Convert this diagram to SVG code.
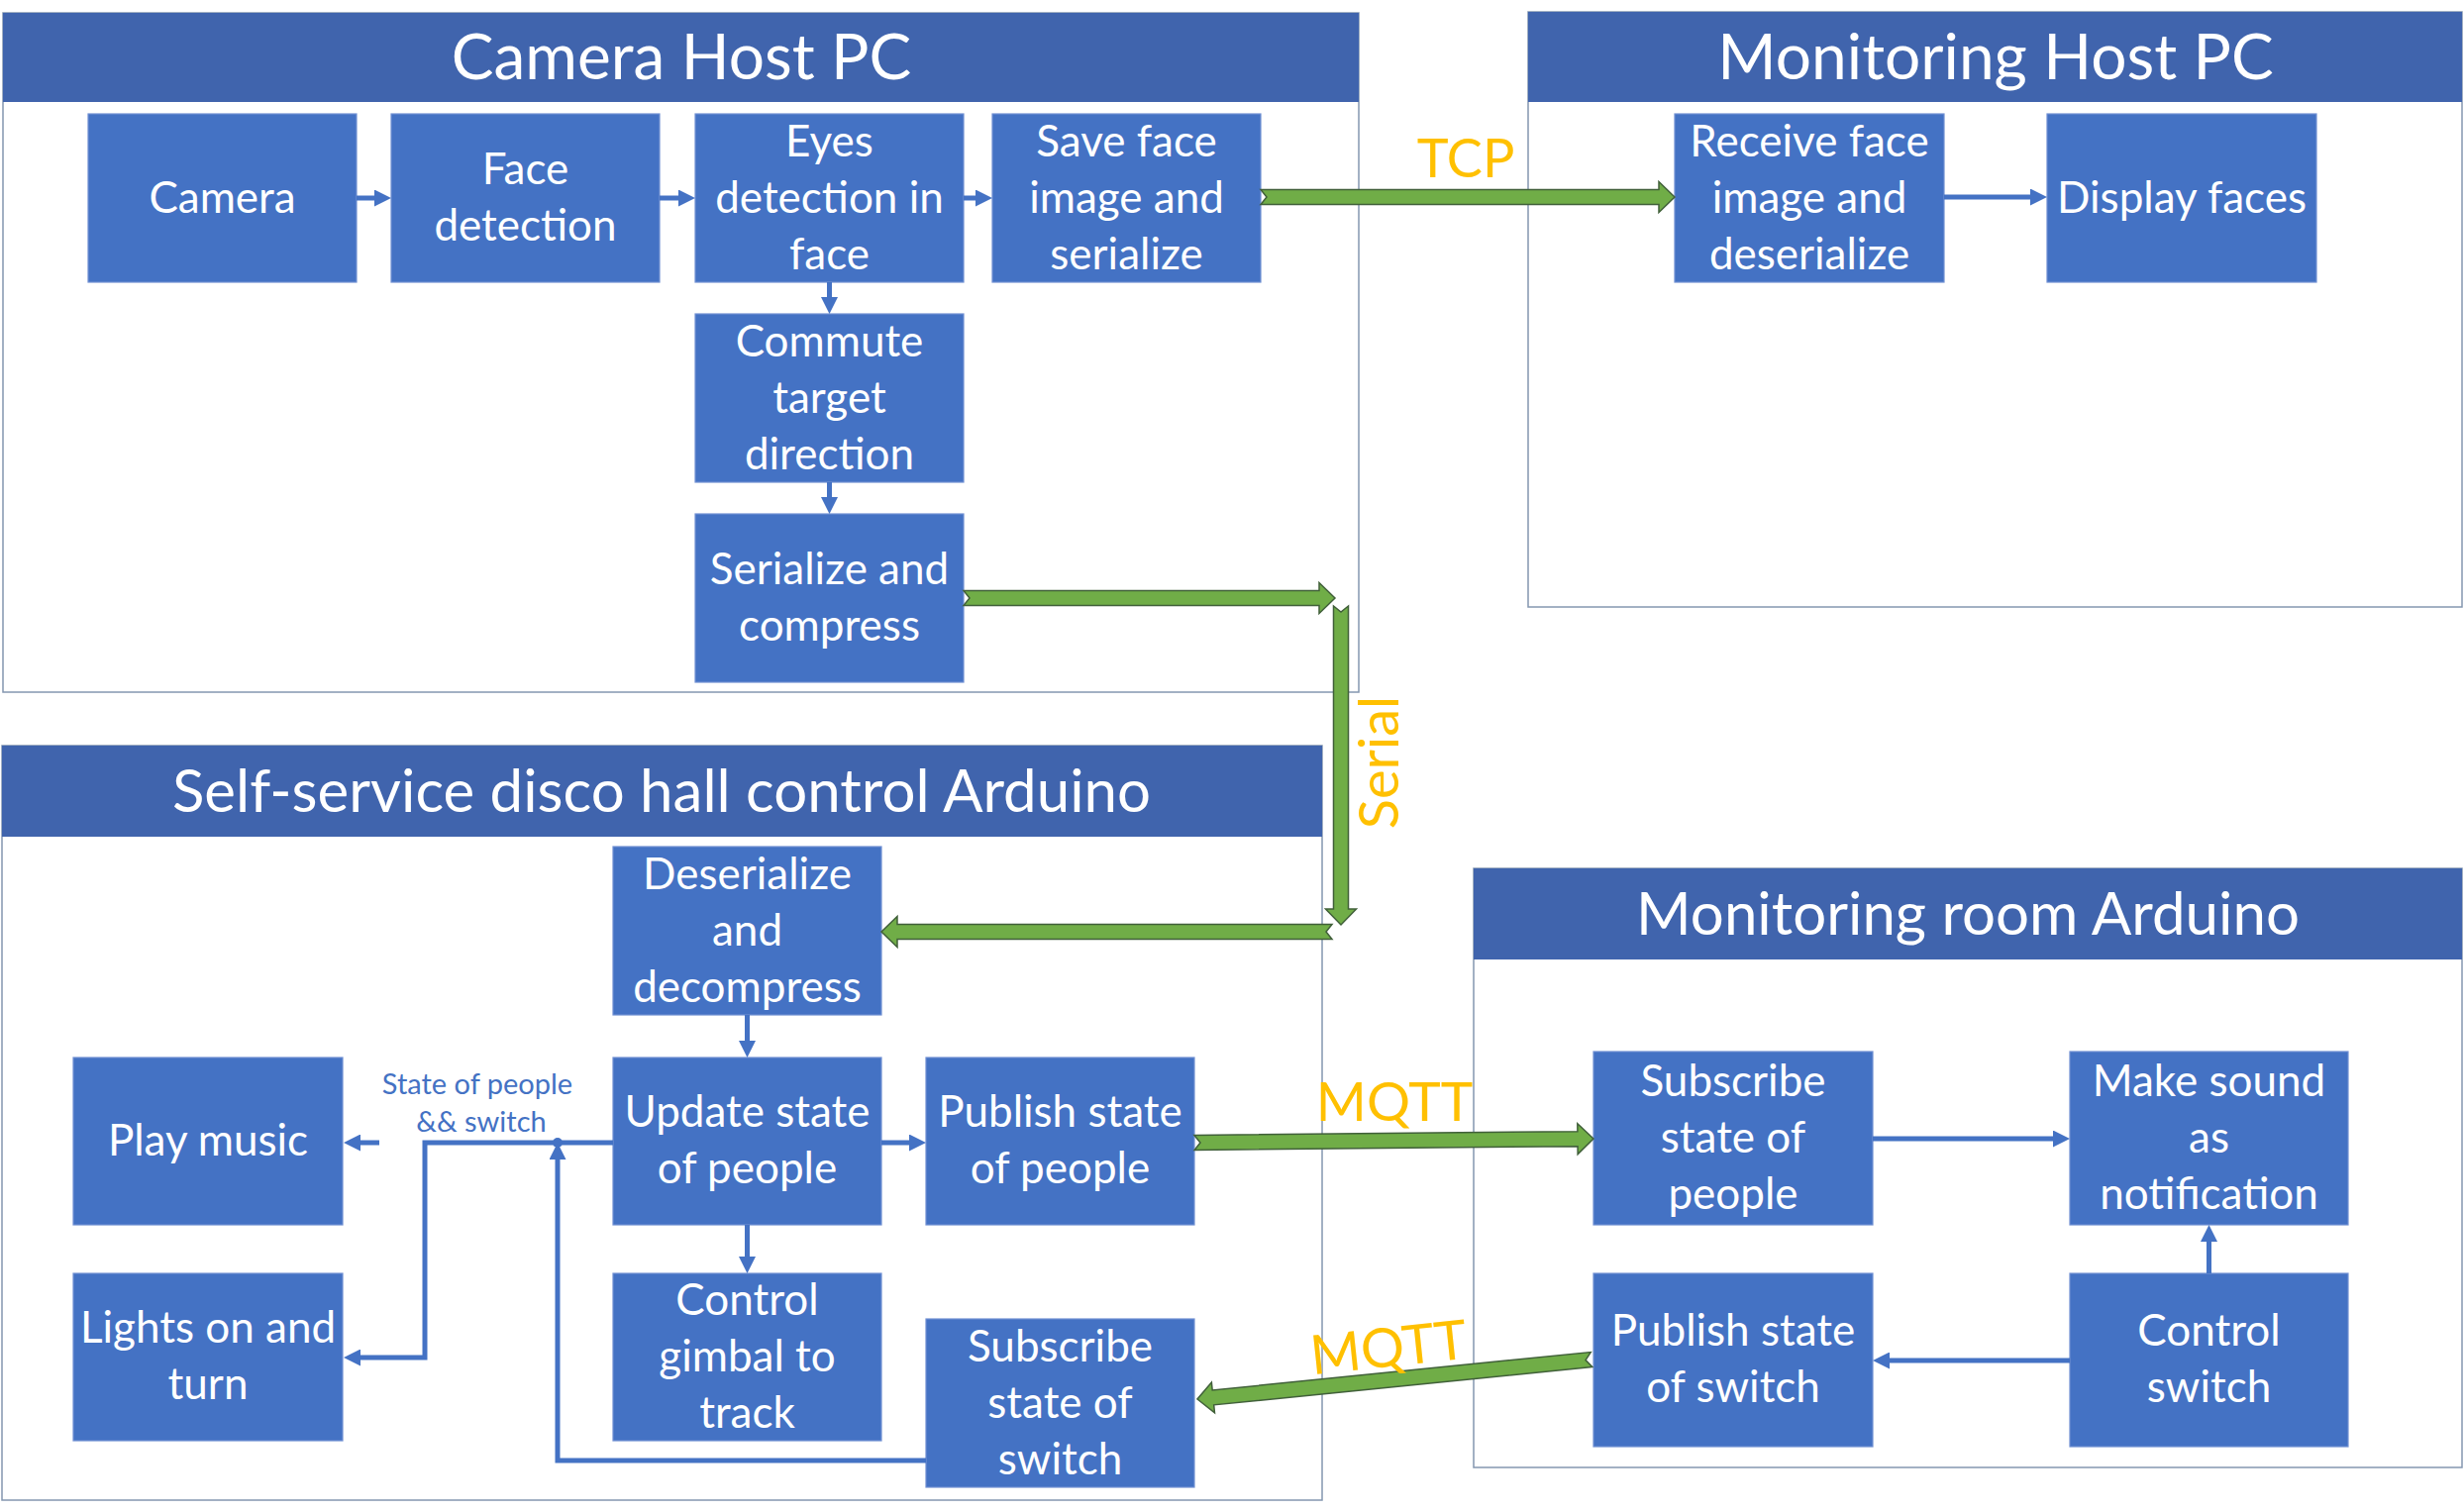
<svg xmlns="http://www.w3.org/2000/svg" width="2488" height="1527" viewBox="0 0 2488 1527">
<style>
.cont{fill:#ffffff;stroke:#8497B0;stroke-width:1.5}
.hdr{fill:#4064AD}
.ttl{font-family:Lato,"Open Sans",sans-serif;font-size:64px;fill:#ffffff;text-anchor:middle}
.box{fill:#4472C4;stroke:#6F8FD2;stroke-width:1.2}
.bt{font-family:Lato,"Open Sans",sans-serif;font-size:44px;fill:#ffffff;text-anchor:middle}
.con{fill:none;stroke:#4472C4;stroke-width:5}
.arr{marker-end:url(#ah)}
.grn{fill:#70AD47;stroke:#41603A;stroke-width:1.5}
.lbl{font-family:Lato,"Open Sans",sans-serif;fill:#FFC000;text-anchor:middle}
.sm{font-family:Lato,"Open Sans",sans-serif;font-size:29px;fill:#4472C4;text-anchor:middle}
</style>
<defs>
<marker id="ah" viewBox="0 0 10 10" refX="5.3" refY="5" markerWidth="17" markerHeight="17" markerUnits="userSpaceOnUse" orient="auto">
<path d="M0,0 L10,5 L0,10 z" fill="#4472C4"/>
</marker>
</defs>
<rect width="2488" height="1527" fill="#ffffff"/>

<g id="camera-host-pc">
<rect class="cont" x="3" y="13" width="1369" height="686"/>
<rect class="hdr" x="3" y="13" width="1369" height="90"/>
<text class="ttl" x="688" y="80">Camera Host PC</text>
</g>
<g id="monitoring-host-pc">
<rect class="cont" x="1543" y="12" width="943" height="601"/>
<rect class="hdr" x="1543" y="12" width="943" height="91"/>
<text class="ttl" x="2015" y="80">Monitoring Host PC</text>
</g>
<g id="disco-arduino">
<rect class="cont" x="2" y="753" width="1333" height="762"/>
<rect class="hdr" x="2" y="753" width="1333" height="92"/>
<text class="ttl" x="668" y="820" style="font-size:60px">Self-service disco hall control Arduino</text>
</g>
<g id="monitoring-room-arduino">
<rect class="cont" x="1488" y="877" width="998" height="605"/>
<rect class="hdr" x="1488" y="877" width="998" height="92"/>
<text class="ttl" x="1987" y="944" style="font-size:60px">Monitoring room Arduino</text>
</g>

<g id="n-camera"><rect class="box" x="89" y="115" width="271" height="170"/><text class="bt" x="224.5" y="215">Camera</text></g>
<g id="n-face"><rect class="box" x="395" y="115" width="271" height="170"/><text class="bt" x="530.5" y="186">Face</text><text class="bt" x="530.5" y="243">detection</text></g>
<g id="n-eyes"><rect class="box" x="702" y="115" width="271" height="170"/><text class="bt" x="837.5" y="158">Eyes</text><text class="bt" x="837.5" y="215">detection in</text><text class="bt" x="837.5" y="272">face</text></g>
<g id="n-save"><rect class="box" x="1002" y="115" width="271" height="170"/><text class="bt" x="1137.5" y="158">Save face</text><text class="bt" x="1137.5" y="215">image and</text><text class="bt" x="1137.5" y="272">serialize</text></g>
<g id="n-commute"><rect class="box" x="702" y="317" width="271" height="170"/><text class="bt" x="837.5" y="360">Commute</text><text class="bt" x="837.5" y="417">target</text><text class="bt" x="837.5" y="474">direction</text></g>
<g id="n-serialize"><rect class="box" x="702" y="519" width="271" height="170"/><text class="bt" x="837.5" y="590">Serialize and</text><text class="bt" x="837.5" y="647">compress</text></g>
<g id="n-receive"><rect class="box" x="1691" y="115" width="272" height="170"/><text class="bt" x="1827" y="158">Receive face</text><text class="bt" x="1827" y="215">image and</text><text class="bt" x="1827" y="272">deserialize</text></g>
<g id="n-display"><rect class="box" x="2067" y="115" width="272" height="170"/><text class="bt" x="2203" y="215">Display faces</text></g>

<g id="n-deserialize"><rect class="box" x="619" y="855" width="271" height="170"/><text class="bt" x="754.5" y="898">Deserialize</text><text class="bt" x="754.5" y="955">and</text><text class="bt" x="754.5" y="1012">decompress</text></g>
<g id="n-update"><rect class="box" x="619" y="1068" width="271" height="169"/><text class="bt" x="754.5" y="1138">Update state</text><text class="bt" x="754.5" y="1195">of people</text></g>
<g id="n-publish-people"><rect class="box" x="935" y="1068" width="271" height="169"/><text class="bt" x="1070.5" y="1138">Publish state</text><text class="bt" x="1070.5" y="1195">of people</text></g>
<g id="n-play"><rect class="box" x="74" y="1068" width="272" height="169"/><text class="bt" x="210" y="1167">Play music</text></g>
<g id="n-lights"><rect class="box" x="74" y="1286" width="272" height="169"/><text class="bt" x="210" y="1356">Lights on and</text><text class="bt" x="210" y="1413">turn</text></g>
<g id="n-gimbal"><rect class="box" x="619" y="1286" width="271" height="169"/><text class="bt" x="754.5" y="1328">Control</text><text class="bt" x="754.5" y="1385">gimbal to</text><text class="bt" x="754.5" y="1442">track</text></g>
<g id="n-subscribe-switch"><rect class="box" x="935" y="1332" width="271" height="170"/><text class="bt" x="1070.5" y="1375">Subscribe</text><text class="bt" x="1070.5" y="1432">state of</text><text class="bt" x="1070.5" y="1489">switch</text></g>

<g id="n-subscribe-people"><rect class="box" x="1609" y="1062" width="282" height="175"/><text class="bt" x="1750" y="1107">Subscribe</text><text class="bt" x="1750" y="1164">state of</text><text class="bt" x="1750" y="1221">people</text></g>
<g id="n-make-sound"><rect class="box" x="2090" y="1062" width="281" height="175"/><text class="bt" x="2230.5" y="1107">Make sound</text><text class="bt" x="2230.5" y="1164">as</text><text class="bt" x="2230.5" y="1221">notification</text></g>
<g id="n-publish-switch"><rect class="box" x="1609" y="1286" width="282" height="175"/><text class="bt" x="1750" y="1359">Publish state</text><text class="bt" x="1750" y="1416">of switch</text></g>
<g id="n-control-switch"><rect class="box" x="2090" y="1286" width="281" height="175"/><text class="bt" x="2230.5" y="1359">Control</text><text class="bt" x="2230.5" y="1416">switch</text></g>

<g id="connectors">
<line class="con arr" x1="360" y1="200" x2="387" y2="200"/>
<line class="con arr" x1="666" y1="200" x2="694" y2="200"/>
<line class="con arr" x1="973" y1="200" x2="994" y2="200"/>
<line class="con arr" x1="837.5" y1="285" x2="837.5" y2="309"/>
<line class="con arr" x1="837.5" y1="487" x2="837.5" y2="511"/>
<line class="con arr" x1="1963" y1="199" x2="2059" y2="199"/>
<line class="con arr" x1="754.5" y1="1025" x2="754.5" y2="1060"/>
<line class="con arr" x1="890" y1="1154" x2="927" y2="1154"/>
<line class="con arr" x1="754.5" y1="1237" x2="754.5" y2="1278"/>
<polyline class="con arr" points="619,1154 429,1154 429,1371 355,1371"/>
<line class="con arr" x1="383" y1="1154" x2="355" y2="1154"/>
<polyline class="con arr" points="935,1475 563,1475 563,1162"/>
<circle cx="563" cy="1154" r="5" fill="#4472C4"/>
<line class="con arr" x1="1891" y1="1150" x2="2082" y2="1150"/>
<line class="con arr" x1="2230.5" y1="1286" x2="2230.5" y2="1245"/>
<line class="con arr" x1="2090" y1="1374" x2="1899" y2="1374"/>

<g transform="translate(1273,199)"><polygon class="grn" points="0,-7.5 402,-7.5 402,-15.5 418,0 402,15.5 402,7.5 0,7.5 6,0"/></g>
<g transform="translate(973,604)"><polygon class="grn" points="0,-7.5 359,-7.5 359,-15.5 375,0 359,15.5 359,7.5 0,7.5 6,0"/></g>
<g transform="translate(1354,612) rotate(90)"><polygon class="grn" points="0,-7.5 306,-7.5 306,-15.5 322,0 306,15.5 306,7.5 0,7.5 6,0"/></g>
<g transform="translate(1345,941) rotate(180)"><polygon class="grn" points="0,-7.5 439,-7.5 439,-15.5 455,0 439,15.5 439,7.5 0,7.5 6,0"/></g>
<g transform="translate(1206,1154) rotate(-0.57)"><polygon class="grn" points="0,-7.5 387,-7.5 387,-15.5 403,0 387,15.5 387,7.5 0,7.5 6,0"/></g>
<g transform="translate(1607,1373) rotate(174.26)"><polygon class="grn" points="0,-7.5 384,-7.5 384,-15.5 400,0 384,15.5 384,7.5 0,7.5 6,0"/></g>

<text class="lbl" x="1480" y="179" font-size="54">TCP</text>
<text class="lbl" font-size="56" transform="translate(1412,770) rotate(-90)">Serial</text>
<text class="lbl" x="1408" y="1132" font-size="55">MQTT</text>
<text class="lbl" font-size="55" transform="translate(1404,1380) rotate(-6)">MQTT</text>
<text class="sm" x="482" y="1105">State of people</text>
<text class="sm" x="486" y="1143">&amp;&amp; switch</text>
</g>
</svg>
